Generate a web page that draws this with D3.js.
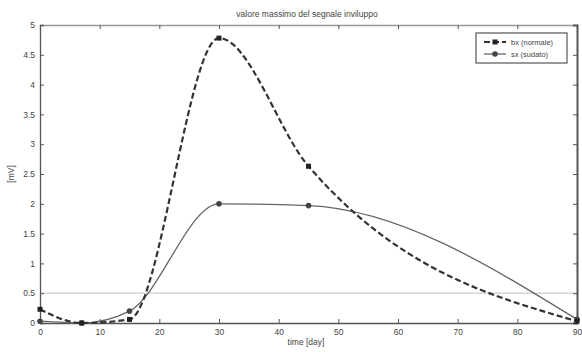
<!DOCTYPE html>
<html>
<head>
<meta charset="utf-8">
<script src="https://cdn.jsdelivr.net/npm/d3@7.9.0/dist/d3.min.js"></script>
<style>
  body { margin: 0; background: #fff; }
  text { font-family: "Liberation Sans", Arial, sans-serif; fill: #444; }
</style>
</head>
<body>
<svg id="chart" width="582" height="352"></svg>
<script>
// ================================
// Data
// ================================
const days = [0, 7, 15, 30, 45, 90];
const bxValues = [0.23, 0.0, 0.06, 4.78, 2.63, 0.03];   // bx (normale)
const sxValues = [0.03, 0.0, 0.2, 2.0, 1.97, 0.06];     // sx (sudato)
const xTicks = [0, 10, 20, 30, 40, 50, 60, 70, 80, 90];
const yTicks = [0, 0.5, 1, 1.5, 2, 2.5, 3, 3.5, 4, 4.5, 5];
const refLevel = 0.5;

const svg = d3.select("#chart");
const margin = { left: 40, right: 5, top: 25, bottom: 29 };
const W = 582, H = 352;

const x = d3.scaleLinear().domain([0, 90]).range([margin.left, W - margin.right]);
const y = d3.scaleLinear().domain([0, 5]).range([H - margin.bottom, margin.top]);

// ================================
// Reference line at 0.5
// ================================
svg.append("line")
  .attr("x1", x(0)).attr("x2", x(90))
  .attr("y1", y(refLevel)).attr("y2", y(refLevel))
  .attr("stroke", "#ccc").attr("stroke-width", 1.2);

// ================================
// Axes (MATLAB-style box, ticks inside)
// ================================
const axisColor = "#555";
const tickLen = 4;
const fmt = d3.format("~g");

const gx = svg.append("g").attr("transform", `translate(0,${y(0)})`)
  .call(d3.axisBottom(x).tickValues(xTicks).tickSize(-tickLen).tickPadding(6).tickFormat(fmt));
const gxTop = svg.append("g").attr("transform", `translate(0,${y(5)})`)
  .call(d3.axisTop(x).tickValues(xTicks).tickSize(-tickLen).tickFormat(""));
const gy = svg.append("g").attr("transform", `translate(${x(0)},0)`)
  .call(d3.axisLeft(y).tickValues(yTicks).tickSize(-tickLen).tickPadding(5).tickFormat(fmt));
const gyRight = svg.append("g").attr("transform", `translate(${x(90)},0)`)
  .call(d3.axisRight(y).tickValues(yTicks).tickSize(-tickLen).tickFormat(""));

[gx, gxTop, gy, gyRight].forEach(g => {
  g.selectAll("path").attr("stroke", axisColor).attr("stroke-width", 1.3);
  g.selectAll("line").attr("stroke", axisColor);
  g.selectAll("text").attr("font-size", 8.5).attr("fill", "#555")
    .attr("font-family", "Liberation Sans, Arial, sans-serif");
});
gyRight.select("path").attr("stroke-width", 2);
gxTop.select("path").attr("stroke", "#999");

// ================================
// Curves
// ================================
const line = d3.line()
  .x(d => x(d[0]))
  .y(d => y(d[1]))
  .curve(d3.curveMonotoneX);

const bx = days.map((d, i) => [d, bxValues[i]]);
const sx = days.map((d, i) => [d, sxValues[i]]);

svg.append("path").datum(sx)
  .attr("d", line).attr("fill", "none")
  .attr("stroke", "#666").attr("stroke-width", 1.3);

svg.append("path").datum(bx)
  .attr("d", line).attr("fill", "none")
  .attr("stroke", "#333").attr("stroke-width", 2.2)
  .attr("stroke-dasharray", "6,3");

svg.selectAll("circle.sx").data(sx).join("circle")
  .attr("class", "sx")
  .attr("cx", d => x(d[0])).attr("cy", d => y(d[1]))
  .attr("r", 2.8).attr("fill", "#444");

svg.selectAll("rect.bx").data(bx).join("rect")
  .attr("class", "bx")
  .attr("x", d => x(d[0]) - 2.5).attr("y", d => y(d[1]) - 2.5)
  .attr("width", 5).attr("height", 5).attr("fill", "#222");

// ================================
// Labels
// ================================
svg.append("text").attr("x", 307).attr("y", 17)
  .attr("text-anchor", "middle").attr("font-size", 8.5)
  .text("valore massimo del segnale inviluppo");

svg.append("text").attr("x", 306).attr("y", 345)
  .attr("text-anchor", "middle").attr("font-size", 8.5)
  .text("time [day]");

svg.append("text")
  .attr("transform", `translate(14,${(y(0) + y(5)) / 2}) rotate(-90)`)
  .attr("text-anchor", "middle").attr("font-size", 8.5)
  .text("[mV]");

// ================================
// Legend
// ================================
const legend = svg.append("g").attr("transform", "translate(476,33)");
legend.append("rect").attr("width", 91).attr("height", 30)
  .attr("fill", "#fff").attr("stroke", "#555").attr("stroke-width", 1.2);

const entries = [
  { label: "bx (normale)", dash: "6,3", color: "#333", width: 2.2, marker: "square" },
  { label: "sx (sudato)", dash: null, color: "#666", width: 1.3, marker: "circle" }
];

entries.forEach((e, i) => {
  const ly = 9 + i * 12;
  legend.append("line").attr("x1", 8).attr("x2", 30).attr("y1", ly).attr("y2", ly)
    .attr("stroke", e.color).attr("stroke-width", e.width)
    .attr("stroke-dasharray", e.dash);
  if (e.marker === "square") {
    legend.append("rect").attr("x", 16.5).attr("y", ly - 2.5)
      .attr("width", 5).attr("height", 5).attr("fill", "#222");
  } else {
    legend.append("circle").attr("cx", 19).attr("cy", ly).attr("r", 2.8).attr("fill", "#444");
  }
  legend.append("text").attr("x", 35).attr("y", ly + 3)
    .attr("font-size", 7.5).text(e.label);
});
</script>
</body>
</html>
